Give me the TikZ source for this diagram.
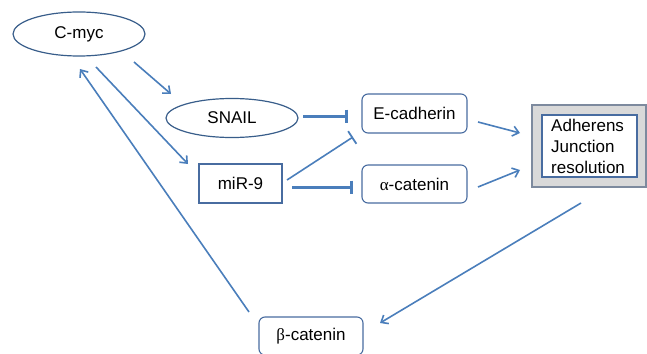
\documentclass[tikz,border=0pt]{standalone}
\usepackage{fontspec}
\setmainfont{Liberation Sans}
\newfontfamily\grk{Liberation Serif}
\usetikzlibrary{shapes.geometric,arrows.meta,calc}
\definecolor{lineblue}{RGB}{74,126,187}
\definecolor{ellblue}{RGB}{56,93,138}
\definecolor{borderblue}{RGB}{72,108,160}
\definecolor{boxgray}{RGB}{217,217,217}
\definecolor{graybord}{RGB}{125,138,158}
\begin{document}
\begin{tikzpicture}[x=1pt,y=-1pt,
  every node/.style={font=\fontsize{17}{21}\selectfont, inner sep=0pt},
  ell/.style={ellipse, draw=ellblue, line width=1.2pt},
  sqbox/.style={rectangle, draw=borderblue, line width=1.1pt},
  rbox/.style={rectangle, rounded corners=6pt, draw=borderblue, line width=1.1pt},
  act/.style={draw=lineblue, line width=1.6pt, -{Straight Barb[length=6pt,width=10pt,line width=1.6pt]}},
  inh/.style={draw=lineblue, line width=3pt, -{Bar[width=13pt,line width=2.8pt]}},
  inhthin/.style={draw=lineblue, line width=1.6pt, -{Bar[width=15pt,line width=1.8pt]}}
]
\useasboundingbox (0,0) rectangle (647,353);
\node[ell, minimum width=132pt, minimum height=44pt] (cmyc) at (79,34) {C-myc};
\node[ell, minimum width=132pt, minimum height=39pt] (snail) at (232,118) {SNAIL};
\node[sqbox, minimum width=83pt, minimum height=39pt] (mir9) at (240.5,183.5) {miR-9};
\node[rbox, minimum width=105pt, minimum height=39pt] (ecad) at (414.5,113.5) {E-cadherin};
\node[rbox, minimum width=105pt, minimum height=38pt] (acat) at (414.5,184) {{\grk α}-catenin};
\node[rectangle, draw=graybord, fill=boxgray, line width=1.6pt, minimum width=114pt, minimum height=82pt] (adh) at (589,146) {};
\node[rectangle, draw=borderblue, fill=white, line width=1.4pt, minimum width=95pt, minimum height=62pt] (adhin) at (589.5,146) {};
\node[align=left, anchor=west] (adhtext) at (551,146) {Adherens\\Junction\\resolution};
\node[rbox, minimum width=104pt, minimum height=38pt] (bcat) at (311,336) {{\grk β}-catenin};

\draw[act] ($(cmyc.center)+(55,28)$) -- ($(snail.center)+(-61,-24)$);
\draw[act] ($(cmyc.center)+(17,33)$) -- ($(mir9.center)+(-52.5,-19.5)$);
\draw[act] ($(bcat.center)+(-62,-24)$) -- ($(cmyc.center)+(1,35)$);
\draw[inh] ($(snail.center)+(71,-2)$) -- ($(ecad.center)+(-66.5,2.5)$);
\draw[inhthin] ($(mir9.center)+(46.5,-3.5)$) -- ($(ecad.center)+(-61.5,23.5)$);
\draw[inh] ($(mir9.center)+(51.5,3.5)$) -- ($(acat.center)+(-61.5,3)$);
\draw[act] ($(ecad.center)+(63.5,8.5)$) -- ($(adh.center)+(-69,-13)$);
\draw[act] ($(acat.center)+(63.5,3)$) -- ($(adh.center)+(-69,24)$);
\draw[act] ($(adh.center)+(-8,57)$) -- ($(bcat.center)+(69,-13)$);
\end{tikzpicture}
\end{document}
